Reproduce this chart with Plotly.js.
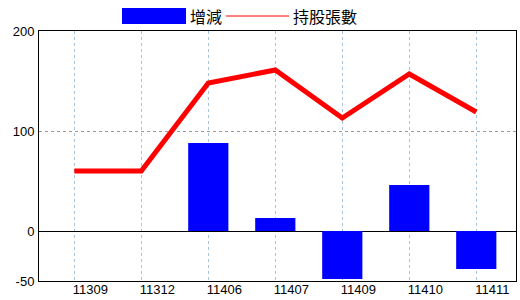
<!DOCTYPE html>
<html>
<head>
<meta charset="utf-8">
<script src="https://cdn.plot.ly/plotly-3.0.1.min.js"></script>
<style>html,body{margin:0;padding:0;background:#fff}#chart{width:520px;height:300px}</style>
</head>
<body>
<div id="chart"></div>
<script>
const categories = ["11309", "11312", "11406", "11407", "11409", "11410", "11411"];
const changeValues = [null, null, 88, 13, -48, 46, -38];
const holdingValues = [60, 60, 148, 161, 113, 157, 119];
const yTickValues = [-50, 0, 100, 200];
const seriesNames = ["增減", "持股張數"];

const idx = categories.map((_, i) => i);

const barTrace = {
  type: "bar", x: idx, y: changeValues, name: seriesNames[0],
  marker: {color: "#0000ff", line: {width: 0}}, width: 0.6,
  hoverinfo: "skip", showlegend: false
};
const lineTrace = {
  type: "scatter", mode: "lines", x: idx, y: holdingValues, name: seriesNames[1],
  line: {color: "#ff0000", width: 5}, hoverinfo: "skip", showlegend: false
};

const L = 39, R = 516, T = 31, B = 281;
const px = v => (v - L) / (R - L);
const py = v => (B - v) / (B - T);
const cjk = "'Noto Sans CJK TC', 'Noto Sans CJK SC', sans-serif";
const tickFont = {family: "'Liberation Sans Narrow', 'Arial Narrow', 'Liberation Sans', sans-serif", size: 13, color: "#000"};

const layout = {
  width: 520, height: 300,
  margin: {l: L, r: 520 - R, t: T, b: 300 - B, pad: 0},
  paper_bgcolor: "#ffffff", plot_bgcolor: "#ffffff",
  showlegend: false,
  xaxis: {
    range: [-0.527, 6.593], tickvals: idx, ticktext: categories,
    showgrid: true, gridcolor: "#a9c4d8", griddash: "dot", gridwidth: 1,
    showline: true, linecolor: "#000", linewidth: 1, mirror: true,
    zeroline: false, ticks: "", ticklen: 0, ticklabelshift: 16, ticklabelstandoff: -4,
    tickfont: tickFont, automargin: false,
    fixedrange: true
  },
  yaxis: {
    range: [-50, 200], tickvals: yTickValues, ticktext: yTickValues.map(String),
    showgrid: true, gridcolor: "#999999", griddash: "dot", gridwidth: 1,
    zeroline: true, zerolinecolor: "#000", zerolinewidth: 1,
    showline: true, linecolor: "#000", linewidth: 1, mirror: true,
    ticks: "", ticklen: 0, ticklabelstandoff: 1,
    tickfont: tickFont, automargin: false,
    fixedrange: true
  },
  shapes: [
    {type: "rect", xref: "paper", yref: "paper", x0: px(122), x1: px(186), y0: py(24), y1: py(8),
     fillcolor: "#0000ff", line: {width: 0}},
    {type: "line", xref: "paper", yref: "paper", x0: px(226), x1: px(289), y0: py(16), y1: py(16),
     line: {color: "#ff0000", width: 1}}
  ],
  annotations: [
    {xref: "paper", yref: "paper", x: px(188), y: py(16), xanchor: "left", yanchor: "middle",
     text: seriesNames[0], showarrow: false, font: {family: cjk, size: 16, color: "#000"}},
    {xref: "paper", yref: "paper", x: px(291), y: py(16), xanchor: "left", yanchor: "middle",
     text: seriesNames[1], showarrow: false, font: {family: cjk, size: 16, color: "#000"}}
  ]
};

Plotly.newPlot("chart", [barTrace, lineTrace], layout, {staticPlot: true, displayModeBar: false});
</script>
</body>
</html>
